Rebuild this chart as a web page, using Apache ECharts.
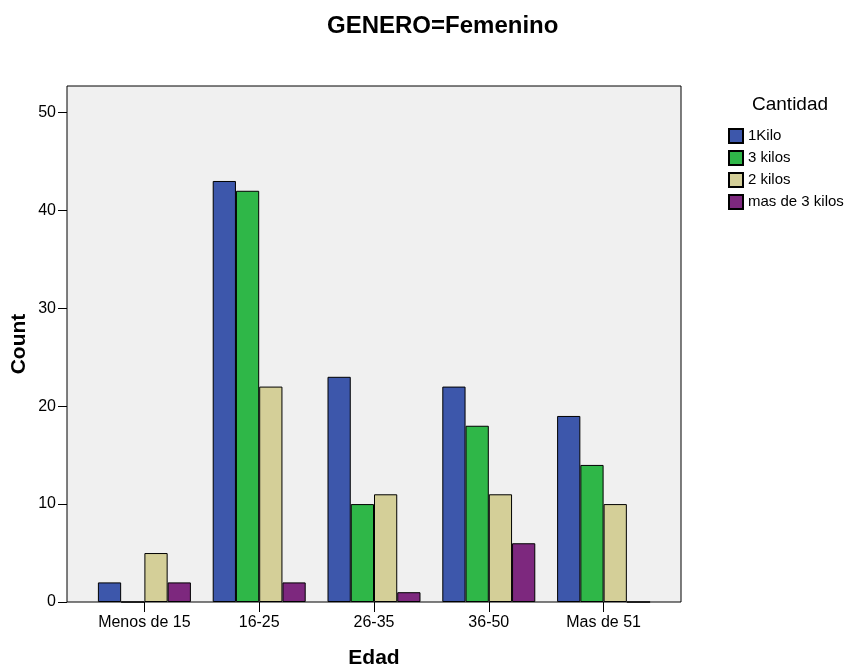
<!DOCTYPE html>
<html>
<head>
<meta charset="utf-8">
<title>GENERO=Femenino</title>
<script src="https://cdn.jsdelivr.net/npm/echarts@6/dist/echarts.min.js"></script>
<style>
  html, body { margin: 0; padding: 0; background: #fff; }
  #chart { width: 852px; height: 666px; }
</style>
</head>
<body>
<div id="chart"></div>
<script>
// datos
var categorias = ['Menos de 15', '16-25', '26-35', '36-50', 'Mas de 51'];
var series_nombres = ['1Kilo', '3 kilos', '2 kilos', 'mas de 3 kilos'];
var kilo1 = [2, 43, 23, 22, 19];
var kilos3 = [0, 42, 10, 18, 14];
var kilos2 = [5, 22, 11, 11, 10];
var mas3kilos = [2, 2, 1, 6, 0];
var yTicks = [0, 10, 20, 30, 40, 50];

var colores = ['#3d57ab', '#2fb748', '#d4cf98', '#7d287e'];
var fuente = 'Liberation Sans, Arial, sans-serif';

var barChart = function () {
    var box = document.getElementById('chart');
    var myCharts = echarts.init(box, null, { renderer: 'canvas' });

    var valores = [kilo1, kilos3, kilos2, mas3kilos];
    var sdata = [];
    valores.forEach(function (item, i) {
        sdata.push({
            name: series_nombres[i],
            type: 'bar',
            xAxisIndex: 1,
            yAxisIndex: 1,
            barGap: 0,
            barCategoryGap: '19%',
            itemStyle: { color: colores[i], borderColor: '#000', borderWidth: 1 },
            data: item
        });
    });

    var option = {
        animation: false,
        textStyle: { fontFamily: fuente, color: '#000' },
        title: [{
            text: 'GENERO=Femenino',
            left: 327,
            top: 14,
            padding: 0,
            textStyle: { fontFamily: fuente, fontSize: 24, fontWeight: 'bold', color: '#000' }
        }, {
            text: 'Cantidad',
            left: 752,
            top: 95,
            padding: 0,
            textStyle: { fontFamily: fuente, fontSize: 19, fontWeight: 'normal', color: '#000' }
        }],
        legend: {
            orient: 'vertical',
            left: 728,
            top: 128,
            padding: 0,
            icon: 'rect',
            itemWidth: 14,
            itemHeight: 14,
            itemGap: 6,
            textStyle: { fontFamily: fuente, fontSize: 15, color: '#000' },
            data: series_nombres
        },
        grid: [
            /* marco con fondo gris */
            { left: 67, top: 86, width: 614, height: 516, show: true, outerBoundsMode: 'none',
              backgroundColor: '#f0f0f0', borderColor: '#000', borderWidth: 1 },
            /* area de las barras */
            { left: 87, top: 86, width: 574, height: 516, outerBoundsMode: 'none' }
        ],
        xAxis: [{
            gridIndex: 0, type: 'value', show: false
        }, {
            gridIndex: 1,
            type: 'category',
            data: categorias,
            name: 'Edad',
            nameLocation: 'middle',
            nameGap: 46,
            nameTextStyle: { fontFamily: fuente, fontSize: 21, fontWeight: 'bold', color: '#000' },
            axisLine: { show: false },
            axisTick: { show: true, alignWithLabel: true, interval: 0, length: 10, lineStyle: { color: '#000' } },
            axisLabel: { fontFamily: fuente, fontSize: 16, color: '#000', margin: 13, interval: 0 }
        }],
        yAxis: [{
            gridIndex: 0, type: 'value', show: false
        }, {
            gridIndex: 1,
            type: 'value',
            min: 0,
            max: 52.7,
            interval: 10,
            offset: 20,
            name: 'Count',
            nameLocation: 'middle',
            nameGap: 37,
            nameMoveOverlap: false,
            nameTextStyle: { fontFamily: fuente, fontSize: 21, fontWeight: 'bold', color: '#000' },
            axisLine: { show: false },
            splitLine: { show: false },
            axisTick: { show: true, length: 9, customValues: yTicks, lineStyle: { color: '#000' } },
            axisLabel: { fontFamily: fuente, fontSize: 16, color: '#000', margin: 11, customValues: yTicks }
        }],
        series: sdata
    };

    myCharts.setOption(option);
};

barChart();
</script>
</body>
</html>
